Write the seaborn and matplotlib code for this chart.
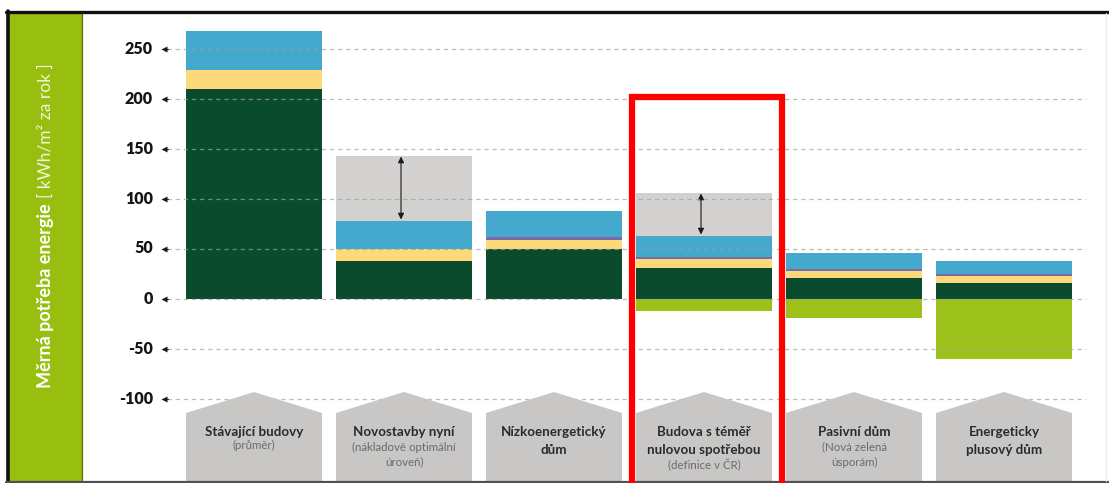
import numpy as np
import pandas as pd
import matplotlib
matplotlib.use("Agg")
import matplotlib.pyplot as plt
from matplotlib.patches import Polygon, Rectangle
from matplotlib.lines import Line2D
import seaborn as sns

# --- data -----------------------------------------------------------------
categories = ["Stávající budovy", "Novostavby nyní", "Nízkoenergetický dům",
              "Budova s téměř nulovou spotřebou", "Pasivní dům",
              "Energeticky plusový dům"]
dark_green = [210, 38, 50, 31, 21, 16]      # lowest segment
yellow = [19, 12, 9, 9, 7, 7]
purple = [0, 0, 3, 2, 2, 2]
blue = [39, 28, 26, 21, 16, 13]
gray_range = [0, 65, 0, 43, 0, 0]           # span above the stacked bar
light_green = [0, 0, 0, -12, -19, -60]      # part below zero

y_ticks = [-100, -50, 0, 50, 100, 150, 200, 250]
y_tick_labels = ["-100", "-50", "0", "50", "100", "150", "200", "250"]

house_titles = [["Stávající budovy"], ["Novostavby nyní"],
                ["Nízkoenergetický", "dům"],
                ["Budova s téměř", "nulovou spotřebou"],
                ["Pasivní dům"], ["Energeticky", "plusový dům"]]
house_notes = [["(průměr)"], ["(nákladově optimální", "úroveň)"], [],
               ["(definice v ČR)"], ["(Nová zelená", "úsporám)"], []]

# --- style ----------------------------------------------------------------
sns.set_style("white")
plt.rcParams["font.family"] = ["Lato", "DejaVu Sans"]

W, H = 1109, 483
fig = plt.figure(figsize=(W / 100, H / 100), dpi=100)
fig.patch.set_facecolor("white")

ZERO_PX = 298.5          # pixel row of value 0
PX_PER_X = 150.0         # pixels per category step
X0_PX = 254.0            # pixel column of the first category centre


def dx(px):
    return (px - X0_PX) / PX_PER_X


def dy(py):
    return ZERO_PX - py


ax_left, ax_right, ax_top, ax_bottom = 82, 1105, 11, 481
ax = fig.add_axes([ax_left / W, (H - ax_bottom) / H,
                   (ax_right - ax_left) / W, (ax_bottom - ax_top) / H])
ax.set_facecolor("white")

bar_w = 136 / PX_PER_X
c_dark = "#0b4b2d"
c_yellow = "#fdd97c"
c_purple = "#7a6aa8"
c_blue = "#45a9cd"
c_gray = "#d3d1cf"
c_lgreen = "#9dc11b"

s1 = np.array(dark_green)
s2 = s1 + np.array(yellow)
s3 = s2 + np.array(purple)
s4 = s3 + np.array(blue)
s5 = s4 + np.array(gray_range)

layers = [(s5, c_gray), (s4, c_blue), (s3, c_purple), (s2, c_yellow),
          (s1, c_dark), (np.array(light_green), c_lgreen)]
for z, (vals, col) in enumerate(layers):
    sns.barplot(x=categories, y=vals, order=categories, color=col,
                saturation=1, width=bar_w, linewidth=0, ax=ax, zorder=2 + z * 0.1)

# double-headed arrows inside the gray spans
for i, g in enumerate(gray_range):
    if g > 0:
        ax.annotate("", xy=(i - 0.02, s4[i] + 1), xytext=(i - 0.02, s5[i] - 1),
                    arrowprops=dict(arrowstyle="<|-|>", color="#1a1a1a",
                                    lw=0.8, mutation_scale=9,
                                    shrinkA=0, shrinkB=0), zorder=5)

# dashed guide lines, small arrow markers and value labels
gx0, gx1 = dx(167), dx(1086)
for t, lab in zip(y_ticks, y_tick_labels):
    ax.plot([gx0, gx1], [t, t], ls=(0, (3.5, 3)), color="#a0a0a0", lw=0.9,
            alpha=0.7, zorder=6)
    ax.plot([dx(163.5)], [t], marker="<", ms=5, color="#1a1a1a",
            mec="none", zorder=6)
    ax.plot([dx(164), dx(168)], [t, t], color="#1a1a1a", lw=0.8, zorder=6)
    ax.text(dx(153), t, lab, ha="right", va="center", fontsize=11.5,
            fontweight="heavy", color="#151515", zorder=6)

# house shapes carrying the category names
for i in range(len(categories)):
    l, r = i - bar_w / 2, i + bar_w / 2
    house = Polygon([(l, -190), (l, dy(413)), (i, dy(392)), (r, dy(413)),
                     (r, -190)], closed=True, fc="#c9c7c5", ec="none",
                    zorder=8)
    ax.add_patch(house)
    y = 432
    for k, line in enumerate(house_titles[i]):
        ax.text(i, dy(y), line, ha="center", va="center", fontsize=9.6,
                fontweight="bold", color="#2a2a2a", zorder=9)
        last = y
        y += 18
    y = last + (13 if i == 0 else 15)
    for line in house_notes[i]:
        ax.text(i, dy(y), line, ha="center", va="center", fontsize=8.3,
                color="#6b6b6b", zorder=9)
        y += 15

ax.set_xlim(dx(ax_left), dx(ax_right))
ax.set_ylim(dy(ax_bottom), dy(ax_top))
ax.set_xticks([])
ax.set_yticks([])
ax.set_xlabel("")
ax.set_ylabel("")
for sp in ax.spines.values():
    sp.set_visible(False)


# --- frame, side band and highlight -----------------------------------------
def fx(px):
    return px / W


def fy(py):
    return 1 - py / H


fig.add_artist(Rectangle((fx(9), fy(483)), fx(82) - fx(9), fy(11) - fy(483),
                         transform=fig.transFigure, fc="#98be0f", ec="none",
                         zorder=1))
fig.add_artist(Line2D([fx(81.5), fx(81.5)], [fy(11), fy(483)],
                      transform=fig.transFigure, color="#5c700c", lw=0.9))
fig.add_artist(Line2D([fx(7.5), fx(7.5)], [fy(11), fy(483)],
                      transform=fig.transFigure, color="#111111", lw=2.6))
fig.add_artist(Line2D([fx(6), fx(1109)], [fy(11.5), fy(11.5)],
                      transform=fig.transFigure, color="#111111", lw=2.4))
fig.add_artist(Line2D([fx(6), fx(1109)], [fy(482), fy(482)],
                      transform=fig.transFigure, color="#505050", lw=1.6))
fig.add_artist(Line2D([fx(1105.5), fx(1105.5)], [fy(13), fy(481)],
                      transform=fig.transFigure, color="#ececec", lw=0.8))
fig.add_artist(Rectangle((fx(631.5), fy(490)), fx(781.5) - fx(631.5),
                         fy(97) - fy(490), transform=fig.transFigure,
                         fc="none", ec="#ff0000", lw=4.5, zorder=20))

# vertical axis title inside the green band
t1 = fig.text(fx(46), fy(388), "Měrná potřeba energie", rotation=90,
              rotation_mode="anchor", ha="left", va="center", fontsize=13,
              fontweight="bold", color="white")
fig.canvas.draw()
bb = t1.get_window_extent()
t2 = fig.text(fx(46), (bb.y1 + 5) / H, "[ kWh/m² za rok ]", rotation=90,
              rotation_mode="anchor", ha="left", va="center", fontsize=12.5,
              fontweight="normal", color="#eef6d6")

fig.savefig("out.png", dpi=100)
